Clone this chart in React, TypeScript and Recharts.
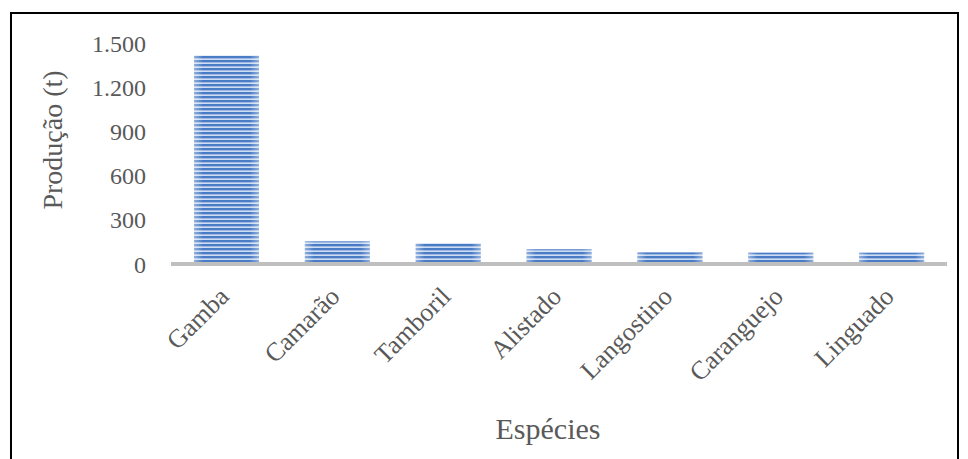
import { BarChart, Bar, XAxis, YAxis, ReferenceLine } from "recharts";

const species = [
  "Gamba",
  "Camarão",
  "Tamboril",
  "Alistado",
  "Langostino",
  "Caranguejo",
  "Linguado",
];
const production = [1415, 154, 141, 100, 79, 77, 77];
const yTicks = [0, 300, 600, 900, 1200, 1500];

const data = species.map((name, i) => ({ name, value: production[i] }));

const TEXT = "#595959";
const FONT = '"Liberation Serif", "Times New Roman", serif';

// thousands separator as a dot (1.500)
const fmt = (v: number) => String(v).replace(/\B(?=(\d{3})+(?!\d))/g, ".");

function SpeciesTick({ x, y, payload }: any) {
  const tx = x + 4;
  const ty = y + 34;
  return (
    <text
      x={tx}
      y={ty}
      transform={`rotate(-45, ${tx}, ${ty})`}
      textAnchor="end"
      fill={TEXT}
      fontSize={26}
      fontFamily={FONT}
    >
      {payload.value}
    </text>
  );
}

function StripedBar({ x, y, width, height }: any) {
  if (!height || height <= 0) return null;
  return (
    <g>
      <rect x={x} y={y} width={width} height={height} fill="url(#barStripes)" />
      <rect x={x} y={y} width={width} height={height} fill="url(#barEdges)" />
    </g>
  );
}

export default function App() {
  return (
    <div style={{ position: "absolute", left: 0, top: 0, width: 968, height: 459, background: "#fff", overflow: "hidden" }}>
      <svg width={0} height={0} style={{ position: "absolute" }}>
        <defs>
          <pattern id="barStripes" patternUnits="userSpaceOnUse" width={8} height={4}>
            <rect x={0} y={0} width={8} height={4} fill="#cddcf2" />
            <rect x={0} y={0} width={8} height={2} fill="#4a7cc5" />
            <rect x={0} y={2} width={8} height={0.6} fill="#7fa3d8" />
          </pattern>
          <linearGradient id="barEdges" x1="0" y1="0" x2="1" y2="0">
            <stop offset="0" stopColor="#ffffff" stopOpacity={0.4} />
            <stop offset="0.14" stopColor="#ffffff" stopOpacity={0} />
            <stop offset="0.86" stopColor="#ffffff" stopOpacity={0} />
            <stop offset="1" stopColor="#ffffff" stopOpacity={0.4} />
          </linearGradient>
        </defs>
      </svg>
      <div
        style={{
          position: "absolute",
          left: 10,
          top: 12,
          width: 949,
          height: 470,
          border: "2px solid #000",
          boxSizing: "border-box",
        }}
      />
      <div style={{ position: "absolute", left: 0, top: 0 }}>
        <BarChart
          width={968}
          height={459}
          data={data}
          margin={{ top: 43, right: 21, left: 0, bottom: 0 }}
        >
          <XAxis
            dataKey="name"
            height={195}
            axisLine={false}
            tickLine={false}
            tickSize={0}
            tickMargin={0}
            interval={0}
            tick={<SpeciesTick />}
            label={{
              content: () => (
                <text
                  x={548}
                  y={428}
                  textAnchor="middle"
                  dominantBaseline="central"
                  fill={TEXT}
                  fontSize={30}
                  fontFamily={FONT}
                >
                  Espécies
                </text>
              ),
            }}
          />
          <YAxis
            width={171}
            domain={[0, 1500]}
            ticks={yTicks}
            tickFormatter={fmt}
            axisLine={false}
            tickLine={false}
            tickSize={0}
            tickMargin={25}
            tick={{ fill: TEXT, fontSize: 24, fontFamily: FONT }}
            label={{
              content: () => (
                <text
                  x={52}
                  y={140}
                  transform="rotate(-90, 52, 140)"
                  textAnchor="middle"
                  dominantBaseline="central"
                  fill={TEXT}
                  fontSize={28}
                  fontFamily={FONT}
                >
                  Produção (t)
                </text>
              ),
            }}
          />
          <Bar dataKey="value" barSize={65} shape={<StripedBar />} isAnimationActive={false} />
          <ReferenceLine y={0} stroke="#bfbfbf" strokeWidth={4} />
        </BarChart>
      </div>
    </div>
  );
}
